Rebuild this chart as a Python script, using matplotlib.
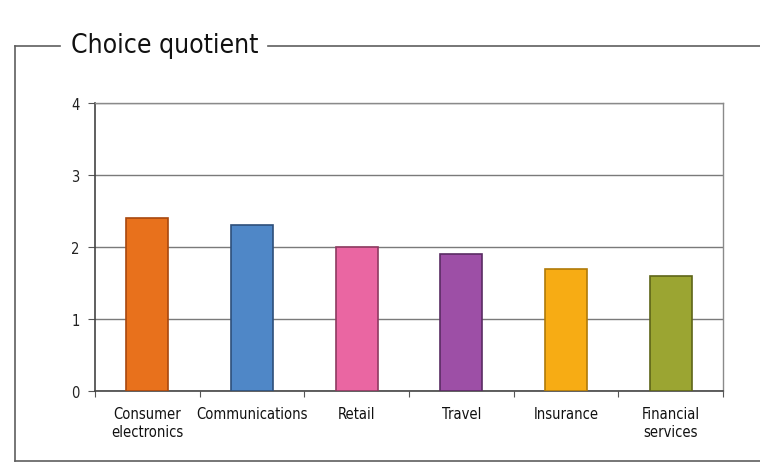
import matplotlib
matplotlib.use("Agg")
import matplotlib.pyplot as plt
from matplotlib.lines import Line2D
from matplotlib import font_manager

# Chart data
categories = ["Consumer\nelectronics", "Communications", "Retail", "Travel",
              "Insurance", "Financial\nservices"]
values = [2.4, 2.3, 2.0, 1.9, 1.7, 1.6]
bar_colors = ["#E8711C", "#4F87C7", "#EA66A2", "#9D4FA6", "#F7AC14", "#9BA532"]
edge_colors = ["#A8480E", "#2E4F7A", "#8E3A60", "#5A2C63", "#B07A08", "#5E6518"]
y_ticks = [0, 1, 2, 3, 4]
title = "Choice quotient"

# Prefer the condensed cut of DejaVu Sans when it is available
condensed = [f for f in font_manager.fontManager.ttflist
             if f.name == "DejaVu Sans" and "ondensed" in f.fname
             and f.weight in (400, "normal") and f.style == "normal"]
font_prop = dict(fname=condensed[0].fname) if condensed else dict(family="DejaVu Sans")


def fp(size):
    return font_manager.FontProperties(size=size, **font_prop)


fig = plt.figure(figsize=(7.6, 4.64), dpi=100)
fig.patch.set_facecolor("white")

ax = fig.add_axes([95 / 760, 72 / 464, 628 / 760, 288 / 464])
x = list(range(len(categories)))
ax.bar(x, values, width=0.4, color=bar_colors, edgecolor=edge_colors,
       linewidth=1.2, zorder=3)

ax.set_xlim(-0.5, len(categories) - 0.5)
ax.set_ylim(0, 4)
ax.set_yticks(y_ticks)
ax.set_yticklabels([str(t) for t in y_ticks], fontproperties=fp(10.5), color="#222222")
ax.set_xticks(x)
ax.set_xticklabels(categories, fontproperties=fp(10.5), color="#111111", linespacing=1.2)
ax.set_xticks([i - 0.5 for i in range(len(categories) + 1)], minor=True)
ax.tick_params(axis="x", which="major", length=0, pad=11)
ax.tick_params(axis="x", which="minor", length=4, color="#555555", width=0.8)
ax.tick_params(axis="y", length=5, color="#555555", width=0.8, pad=6)

ax.yaxis.grid(True, color="#7a7a7a", linewidth=1.0, zorder=0)
ax.set_axisbelow(True)
for side in ["left", "bottom"]:
    ax.spines[side].set_color("#444444")
    ax.spines[side].set_linewidth(1.2)
for side in ["top", "right"]:
    ax.spines[side].set_color("#8a8a8a")
    ax.spines[side].set_linewidth(1.0)

# Outer frame with the title set into its top edge
frame = dict(color="#5f5f5f", linewidth=1.2, transform=fig.transFigure)
W, H = 760, 464
fig.add_artist(Line2D([15 / W, 15 / W], [1 - 47 / H, 1 - 462 / H], **frame))
fig.add_artist(Line2D([15 / W, 60 / W], [1 - 47 / H, 1 - 47 / H], **frame))
fig.add_artist(Line2D([268 / W, 1.0], [1 - 47 / H, 1 - 47 / H], **frame))
fig.add_artist(Line2D([15 / W, 1.0], [1 - 462 / H, 1 - 462 / H], **frame))
fig.text(71 / W, 1 - 46 / H, title, fontproperties=fp(19), color="#111111",
         ha="left", va="center")

fig.savefig("out.png", dpi=100, facecolor="white")
